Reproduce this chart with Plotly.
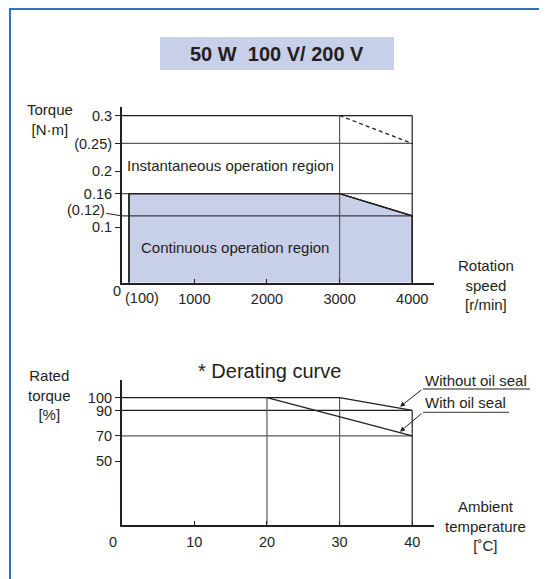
import plotly.graph_objects as go

# The page body has an 8px margin, so the figure is sized to fit the window
OFF = 8
W, H = 547 - OFF, 579 - OFF

# ---------------- data ----------------
speed_ticks = [1000, 2000, 3000, 4000]
speed_tick_text = ["1000", "2000", "3000", "4000"]
torque_ticks = [0.1, 0.16, 0.2, 0.25, 0.3]
torque_tick_text = ["0.1", "0.16", "0.2", "(0.25)", "0.3"]

continuous_speed = [100, 100, 3000, 4000, 4000]
continuous_torque = [0, 0.16, 0.16, 0.12, 0]
instant_speed = [3000, 4000]
instant_torque = [0.3, 0.25]
torque_levels = [0.3, 0.25, 0.16, 0.12]
speed_verticals = [3000, 4000]
speed_max_line = 4000

temp_ticks = [10, 20, 30, 40]
temp_tick_text = ["10", "20", "30", "40"]
rated_ticks = [50, 70, 90, 100]
rated_tick_text = ["50", "70", "90", "100"]

temp_without = [0, 30, 40]
rated_without = [100, 100, 90]
temp_with = [20, 40]
rated_with = [100, 70]
rated_levels = [90, 70]
temp_verticals = [20, 30, 40]
temp_vertical_tops = [100, 100, 90]

DARK = "#231f20"
GREY = "#5a5a5a"
FILL = "#c8cfe8"
FONT = "Liberation Sans, Arial, sans-serif"


def px(x):
    return (x - OFF) / W


def py(y):
    return 1 - (y - OFF) / H


fig = go.Figure()

# ---------------- top chart ----------------
fig.add_trace(go.Scatter(x=continuous_speed, y=continuous_torque, fill="toself",
                         fillcolor=FILL, mode="lines",
                         line=dict(color=DARK, width=1.4),
                         xaxis="x", yaxis="y", hoverinfo="skip"))
level_colors = [DARK, GREY, GREY, "#3a3a3a"]
for lv, c in zip(torque_levels, level_colors):
    fig.add_trace(go.Scatter(x=[0, speed_max_line], y=[lv, lv], mode="lines",
                             line=dict(color=c, width=1.2), xaxis="x", yaxis="y",
                             hoverinfo="skip"))
for sv, c in zip(speed_verticals, [GREY, DARK]):
    fig.add_trace(go.Scatter(x=[sv, sv], y=[0, torque_levels[0]], mode="lines",
                             line=dict(color=c, width=1.2), xaxis="x", yaxis="y",
                             hoverinfo="skip"))
fig.add_trace(go.Scatter(x=continuous_speed[:4], y=continuous_torque[:4], mode="lines",
                         line=dict(color=DARK, width=1.4), xaxis="x", yaxis="y",
                         hoverinfo="skip"))
fig.add_trace(go.Scatter(x=instant_speed, y=instant_torque, mode="lines",
                         line=dict(color=DARK, width=1.2, dash="4px,3px"),
                         xaxis="x", yaxis="y", hoverinfo="skip"))

# ---------------- bottom chart ----------------
for lv, c in zip(rated_levels, [DARK, GREY]):
    fig.add_trace(go.Scatter(x=[0, 40], y=[lv, lv], mode="lines",
                             line=dict(color=c, width=1.2), xaxis="x2", yaxis="y2",
                             hoverinfo="skip"))
for tv, top, c in zip(temp_verticals, temp_vertical_tops, [GREY, GREY, DARK]):
    fig.add_trace(go.Scatter(x=[tv, tv], y=[0, top], mode="lines",
                             line=dict(color=c, width=1.2), xaxis="x2", yaxis="y2",
                             hoverinfo="skip"))
fig.add_trace(go.Scatter(x=temp_without, y=rated_without, mode="lines",
                         line=dict(color=DARK, width=1.3), xaxis="x2", yaxis="y2",
                         hoverinfo="skip"))
fig.add_trace(go.Scatter(x=temp_with, y=rated_with, mode="lines",
                         line=dict(color=DARK, width=1.3), xaxis="x2", yaxis="y2",
                         hoverinfo="skip"))

axis_common = dict(showline=True, linecolor=DARK, linewidth=1.5, showgrid=False,
                   zeroline=False, tickcolor=DARK, tickwidth=1.2,
                   tickfont=dict(family=FONT, size=14.5, color=DARK))

fig.update_layout(
    width=W, height=H, margin=dict(l=0, r=0, t=0, b=0),
    paper_bgcolor="white", plot_bgcolor="rgba(0,0,0,0)", showlegend=False,
    font=dict(family=FONT, color=DARK, size=15),
    xaxis=dict(domain=[px(121.7), px(434)], range=[0, 4300], anchor="y",
               tickvals=speed_ticks, ticktext=speed_tick_text, ticks="inside",
               ticklen=4, ticklabelstandoff=2, **axis_common),
    yaxis=dict(domain=[py(282.7), py(106.7)], range=[0, 0.316], anchor="x",
               tickvals=torque_ticks, ticktext=torque_tick_text, ticks="outside",
               ticklen=5, **axis_common),
    xaxis2=dict(domain=[px(121.7), px(434)], range=[0, 43], anchor="y2",
                tickvals=temp_ticks, ticktext=temp_tick_text, ticks="inside",
                ticklen=4, ticklabelstandoff=3, **axis_common),
    yaxis2=dict(domain=[py(525), py(380)], range=[0, 113.9], anchor="x2",
                tickvals=rated_ticks, ticktext=rated_tick_text, ticks="outside",
                ticklen=5, **axis_common),
)

shapes = [
    # outer frame
    dict(type="rect", xref="paper", yref="paper", x0=px(10), x1=px(540),
         y0=-0.1, y1=py(9), line=dict(color="#2f73bd", width=2), fillcolor="rgba(0,0,0,0)"),
    # title box
    dict(type="rect", xref="paper", yref="paper", x0=px(160), x1=px(394),
         y0=py(70), y1=py(37), line=dict(width=0), fillcolor=FILL, layer="below"),
    # underlines
    dict(type="line", xref="paper", yref="paper", x0=px(423), x1=px(530),
         y0=py(389), y1=py(389), line=dict(color=DARK, width=1.2)),
    dict(type="line", xref="paper", yref="paper", x0=px(423), x1=px(509),
         y0=py(412.3), y1=py(412.3), line=dict(color=GREY, width=1.2)),
]
fig.update_layout(shapes=shapes)


def label(text, x, y, size=15, bold=False, xanchor="center"):
    t = f"<b>{text}</b>" if bold else text
    fig.add_annotation(text=t, x=px(x), y=py(y), xref="paper", yref="paper",
                       xanchor=xanchor, yanchor="middle", showarrow=False,
                       font=dict(family=FONT, size=size, color=DARK))


label("50 W\u00a0\u00a0100 V/ 200 V", 277, 53.5, size=20, bold=True)
label("Torque<br>[N·m]", 50, 119.5)
label("Instantaneous operation region", 230.5, 165.7)
label("Continuous operation region", 235, 247.7)
label("Rotation<br>speed<br>[r/min]", 485.7, 285.5)
label("0", 116.7, 290.7, size=14.5)
label("(100)", 141.7, 298.3, size=14.5)
label("* Derating curve", 269, 370.7, size=20)
label("Rated<br>torque<br>[%]", 49, 395)
label("Ambient<br>temperature<br>[˚C]", 485.7, 526)
label("0", 113.3, 541.7, size=14.5)
label("Without oil seal", 423, 380.5, xanchor="left")
label("With oil seal", 423, 402.5, xanchor="left")

# (0.12) with leader line
fig.add_annotation(text="(0.12)", x=0, y=0.12, xref="x", yref="y",
                   showarrow=True, arrowhead=0, arrowwidth=1, arrowcolor=DARK,
                   ax=-36, ay=-6, font=dict(family=FONT, size=14.5, color=DARK))

# leader arrows for derating curves
fig.add_annotation(text="", x=px(400), y=py(406.7), xref="paper", yref="paper",
                   showarrow=True, arrowhead=2, arrowsize=1, arrowwidth=1,
                   arrowcolor=DARK, ax=23, ay=-18)
fig.add_annotation(text="", x=px(400), y=py(431.7), xref="paper", yref="paper",
                   showarrow=True, arrowhead=2, arrowsize=1, arrowwidth=1,
                   arrowcolor=DARK, ax=23, ay=-19.4)

fig.write_html("out.html")
